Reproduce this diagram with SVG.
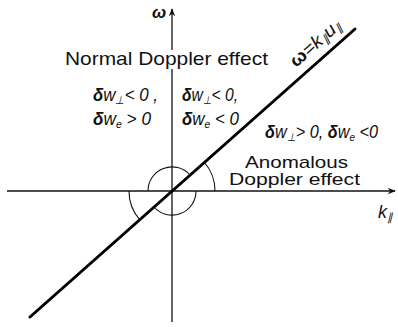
<svg xmlns="http://www.w3.org/2000/svg" width="398" height="327" viewBox="0 0 398 327">
<style>
.ax{stroke:#111;stroke-width:1.3;fill:none}
.thick{stroke:#000;stroke-width:3;fill:none;stroke-linecap:round}
.arc{stroke:#111;stroke-width:1.1;fill:none}
.lbl{font-family:"Liberation Sans",Arial,sans-serif;fill:#111}
.m{font-family:"Liberation Sans",Arial,sans-serif;font-style:italic;fill:#111;font-size:18px}
.d{font-weight:bold}
.sub{font-size:11px}
</style>
<defs>
<marker id="ah" viewBox="0 0 10 10" refX="9" refY="5" markerWidth="10" markerHeight="8" markerUnits="userSpaceOnUse" orient="auto">
<path d="M0,1 L10,5 L0,9 L3,5 Z" fill="#111"/>
</marker>
</defs>
<rect width="398" height="327" fill="#fff"/>
<g id="connectors">
<line class="ax" x1="172" y1="50" x2="172" y2="9" marker-end="url(#ah)"/>
<line class="ax" x1="172" y1="69" x2="172" y2="322"/>
<line class="ax" x1="7" y1="191" x2="395" y2="191" marker-end="url(#ah)"/>
<line class="thick" x1="30" y1="317" x2="355" y2="29"/>
<path class="arc" d="M190,175 A24,24 0 0 0 148,191"/>
<path class="arc" d="M154,207 A24,24 0 0 0 196,191"/>
<path class="arc" d="M215,191 A43,43 0 0 0 204,162"/>
<path class="arc" d="M129,191 A43,43 0 0 0 140,220"/>
</g>
<g id="axis-omega"><text class="lbl" x="152" y="18" font-size="17" font-weight="bold" font-style="italic">ω</text></g>
<g id="axis-k"><text class="m" x="378" y="218" font-size="15">k<tspan class="sub" dy="3">∥</tspan></text></g>
<g id="normal"><text class="lbl" x="65" y="65" font-size="19" textLength="203" lengthAdjust="spacingAndGlyphs">Normal Doppler effect</text></g>
<g id="left-cond">
<text class="m" x="93" y="101" textLength="65" lengthAdjust="spacingAndGlyphs"><tspan class="d">δ</tspan>w<tspan class="sub" dy="3">⊥</tspan><tspan dy="-3">&lt; 0 ,</tspan></text>
<text class="m" x="93" y="125" textLength="58" lengthAdjust="spacingAndGlyphs"><tspan class="d">δ</tspan>w<tspan class="sub" dy="3">e</tspan><tspan dy="-3"> &gt; 0</tspan></text>
</g>
<g id="mid-cond">
<text class="m" x="182" y="101" textLength="56" lengthAdjust="spacingAndGlyphs"><tspan class="d">δ</tspan>w<tspan class="sub" dy="3">⊥</tspan><tspan dy="-3">&lt; 0,</tspan></text>
<text class="m" x="182" y="125" textLength="57" lengthAdjust="spacingAndGlyphs"><tspan class="d">δ</tspan>w<tspan class="sub" dy="3">e</tspan><tspan dy="-3"> &lt; 0</tspan></text>
</g>
<g id="right-cond">
<text class="m" x="265" y="138" textLength="113" lengthAdjust="spacingAndGlyphs"><tspan class="d">δ</tspan>w<tspan class="sub" dy="3">⊥</tspan><tspan dy="-3">&gt; 0, </tspan><tspan class="d">δ</tspan>w<tspan class="sub" dy="3">e</tspan><tspan dy="-3"> &lt;0</tspan></text>
</g>
<g id="anomalous">
<text class="lbl" x="245" y="168" font-size="17" textLength="103" lengthAdjust="spacingAndGlyphs">Anomalous</text>
<text class="lbl" x="229" y="185" font-size="17" textLength="131" lengthAdjust="spacingAndGlyphs">Doppler effect</text>
</g>
<g id="line-label">
<text class="m" font-size="16" transform="translate(296,68) rotate(-41.6)" textLength="62" lengthAdjust="spacingAndGlyphs"><tspan class="d" font-style="normal">ω</tspan>=k<tspan class="sub" dy="2">∥</tspan><tspan dy="-2">u</tspan><tspan class="sub" dy="2">∥</tspan></text>
</g>
</svg>
